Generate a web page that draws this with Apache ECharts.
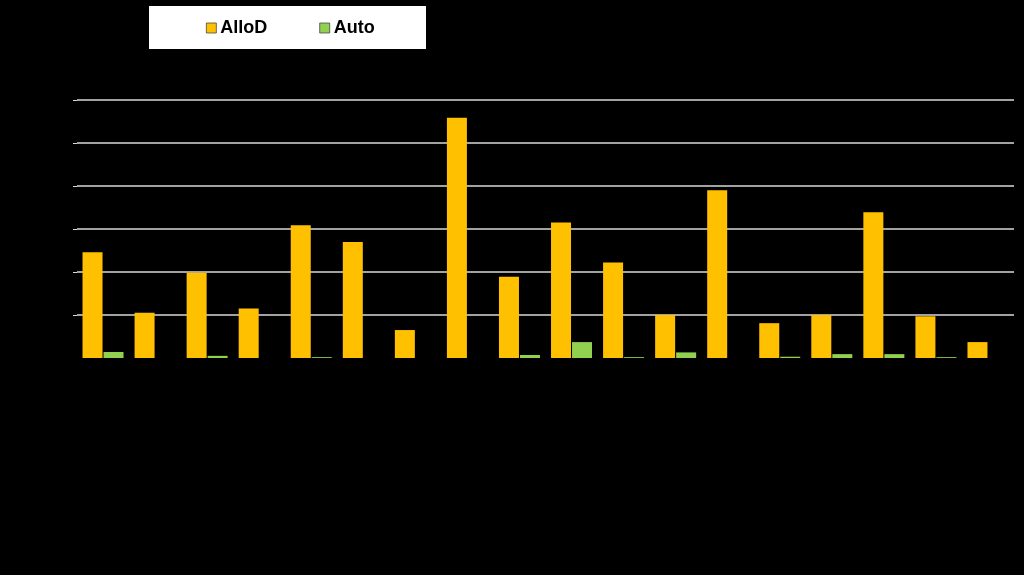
<!DOCTYPE html>
<html>
<head>
<meta charset="utf-8">
<script src="https://cdn.jsdelivr.net/npm/echarts@6/dist/echarts.min.js"></script>
<style>
html,body{margin:0;padding:0;background:#000;}
#c{width:1024px;height:575px;}
</style>
</head>
<body>
<div id="c"></div>
<script>
const categories = ['1','2','3','4','5','6','7','8','9','10','11','12','13','14','15','16','17','18'];
const alloD = [2.46, 1.05, 1.98, 1.15, 3.09, 2.70, 0.65, 5.59, 1.89, 3.15, 2.22, 1.00, 3.90, 0.81, 1.00, 3.39, 0.97, 0.37];
const auto  = [0.14, 0, 0.05, 0, 0.02, 0, 0, 0, 0.07, 0.37, 0.02, 0.13, 0, 0.03, 0.09, 0.09, 0.02, 0];
const yTicks = { min: 0, max: 6, interval: 1 };

const chart = echarts.init(document.getElementById('c'), null, {renderer: 'canvas'});
chart.setOption({
  backgroundColor: '#000000',
  animation: false,
  graphic: [{
    type: 'rect',
    shape: { x: 149, y: 6, width: 277, height: 43 },
    style: { fill: '#ffffff' },
    z: 0
  }, {
    type: 'rect',
    shape: { x: 68, y: 356, width: 10, height: 4 },
    style: { fill: '#000000' },
    z: 100
  }],
  legend: {
    left: 201,
    top: 14,
    itemWidth: 10,
    itemHeight: 10,
    itemGap: 52,
    icon: 'rect',
    textStyle: { fontFamily: 'Liberation Sans', fontSize: 18, fontWeight: 'bold', color: '#000', padding: [0, 0, 0, -1] },
    itemStyle: { borderColor: '#333', borderWidth: 0.7 },
    data: ['AlloD', 'Auto'],
    z: 5
  },
  grid: { left: 77, right: 10, top: 100, bottom: 217, containLabel: false },
  xAxis: {
    type: 'category',
    data: categories,
    z: 10,
    axisLine: { show: true, lineStyle: { color: '#000', width: 2 } },
    axisTick: { show: false },
    axisLabel: { color: '#000', fontFamily: 'Liberation Sans', fontSize: 13, fontWeight: 'bold', rotate: 90 }
  },
  yAxis: {
    type: 'value',
    min: yTicks.min,
    max: yTicks.max,
    interval: yTicks.interval,
    axisLine: { show: false },
    axisTick: { show: true, length: 4, lineStyle: { color: '#d9d9d9' } },
    axisLabel: { color: '#000', fontFamily: 'Liberation Sans', fontSize: 13, fontWeight: 'bold' },
    splitLine: { show: true, lineStyle: { color: '#d9d9d9', width: 1.5 } }
  },
  series: [
    {
      name: 'AlloD', type: 'bar', data: alloD,
      barWidth: 20, barGap: '5%', z: 20,
      itemStyle: { color: '#FFC000' }
    },
    {
      name: 'Auto', type: 'bar', data: auto,
      barWidth: 20, z: 20,
      itemStyle: { color: '#92D050' }
    }
  ]
});
</script>
</body>
</html>
